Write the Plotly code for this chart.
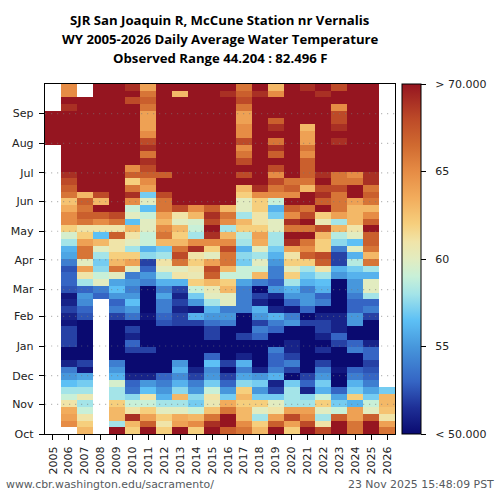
import plotly.graph_objects as go

# weekly water temperature (deg F), Oct at the start of each list, saturated > 70 shown as 72
T2005 = [None] * 43 + [72, 72, 72, 72, 72] + [None] * 4
T2006 = [None, 65, 64, 63.5, 61, 59, 58, 56.5, 55, 54, 51, 50, 50, 52, 52, 52, 50.5, 51, 52, 51, 50.5, 52.5, 53, 53, 52.5, 54,
         55.5, 56, 58, 59.5, 62, 65, 65, 63.5, 62.5, 66, 67, 68, 69, 71, 72, 72, 72, 72, 72, 72, 72, 72, 69, 71, 65, 65]
T2007 = [63, 62, 61, 59, 58, 60.5, 58, 57, 55.5, 50.5, 52, 50, 50, 50, 50, 50, 50, 52.5, 53, 54.5, 55, 53, 58, 61, 64, 60,
         66, 66, 64, 62, 61, 66, 67, 66, 67, 63, 72, 72, 72, 72, 72, 72, 72, 72, 72, 72, 72, 72, 72, 72, None, None]
T2008 = [None] * 20 + [53, 54, 60, 59, 57.5, 57,
         58, 60, 63, 56.5, 61, 65, 67, 70, 63, 68, 72, 72, 72, 72, 72, 72, 72, 72, 72, 72, 72, 72, 72, 72, 72, 72]
T2009 = [71, 58, 63, 63, 62, 58, 58, 59.5, 56, 55, 54, 50, 50, 50, 50, 50, 50, 52, 54, 53, 55, 56.5, 55.5, 60, 66, 63,
         62, 61, 61, 67, 61, 66, 68, 72, 70, 72, 72, 72, 71, 72, 72, 72, 72, 72, 72, 72, 72, 72, 72, 72, 72, 70]
T2010 = [62, 63, 69, 61, 59, 57.5, 53.5, 53, 51, 50, 50, 50, 52, 53, 51, 52, 50, 53.5, 55, 56.5, 55, 54, 55, 54, 60, 64,
         62, 58, 60, 61, 63, 56.5, 60, 59, 65, 69, 66, 62, 67, 65, 72, 72, 72, 72, 72, 72, 71, 72, 70, 68, 70, 69]
T2011 = [71, 67, 64, 62, 59, 61, 56.5, 55, 51, 50, 50, 50, 52, 50, 50, 50, 50, 50.5, 50, 50, 50, 50, 54, 55, 53, 52,
         57.5, 56, 59, 59, 60, 60, 59, 56.5, 60, 57, 64, 65, 67, 68, 69, 66, 69, 68, 65, 64, 64, 64, 66, 67, 66, 64]
T2012 = [62, 61, 62, 60, 58, 56, 55, 54, 53, 50, 50, 50, 50, 50, 50, 50, 52.5, 53, 54, 54, 55.5, 54, 56, 58, 60, 61,
         58, 57, 63, 66, 65, 63, 64, 66, 66, 68, 72, 72, 67, 72, 72, 72, 72, 72, 72, 72, 72, 72, 72, 72, 72, 72]
T2013 = [70, 64, 63.5, 60, 58, 63, 57.5, 56, 54.5, 56, 55, 50, 50, 50, 50, 50, 52, 52, 51, 52, 51, 52, 56, 61, 60, 66,
         68, 66, 63, 62, 63, 60, 61, 68, 70, 72, 72, 72, 72, 72, 72, 72, 72, 72, 72, 72, 72, 72, 72, 72, 63, 71]
T2014 = [62, 65, 63, 59, 57, 57.5, 55, 54, 52, 51, 50, 50, 50, 50, 50, 50, 52, 56, 50.5, 55, 57, 59, 62, 60.5, 61, 62,
         61, 69, 65, 58, 59, 59.5, 63, 65, 72, 72, 72, 72, 72, 72, 72, 72, 72, 72, 72, 72, 72, 72, 72, 72, 72, 71]
T2015 = [70, 69, 66, 62.5, 60.5, 61, 59, 57, 55, 54.5, 56.5, 53, 50, 50, 52, 52, 53.5, 55, 56, 58, 60, 60.5, 63, 67, 68, 64,
         60, 62, 65, 69, 72, 68, 69, 67, 72, 72, 72, 72, 72, 72, 72, 72, 72, 72, 72, 72, 72, 72, 72, 72, 72, 72]
T2016 = [67, 71, 71, 66, 63.5, 57, 55, 53, 52, 50, 52, 50, 50, 50, 50, 50, 54, 55, 54, 60, 60, 63, 62, 59, 63, 66,
         66, 68, 65, 63, 58, 65, 66, 63, 72, 72, 72, 72, 72, 72, 72, 72, 72, 72, 72, 72, 72, 72, 72, 72, 69, 72]
T2017 = [66, 65, 63, 63, 62, 63, 62, 57.5, 55.5, 54, 56, 51, 50, 50, 52, 50, 50, 50, 54, 54, 54, 54, 55.5, 59, 59, 57,
         57.5, 56, 58, 58.5, 62, 63, 58, 60, 60, 62, 63, 72, 68, 70, 68, 66, 65, 68, 65, 65, 64, 64, 66, 68, 67, 66]
T2018 = [63, 62, 58, 60, 62, 57, 55, 57, 55, 51, 50, 50, 50, 50, 53, 54, 52, 55, 56, 51, 52, 50, 54, 63, 59, 60,
         58, 60, 63.5, 64, 62, 61, 61, 62, 62, 65, 69, 72, 72, 72, 72, 72, 72, 72, 72, 72, 72, 72, 72, 72, 69, 72]
T2019 = [71, 67, 64, 61, 60, 57, 52, 51, 56, 54, 53, 53, 54, 50, 50, 53, 54, 56, 51, 50, 51, 55, 53, 54, 54, 55,
         56, 57, 58, 58, 60, 60, 57, 56, 59, 65, 66, 68, 65, 68, 72, 67, 69, 66, 72, 69, 67, 70, 72, 72, 65, 63]
T2020 = [62, 64, 68, 64, 58, 58, 58, 57, 50, 52, 54, 52, 51, 51, 50, 50, 55, 54, 50.5, 53, 55, 56, 58, 62, 60, 62,
         61, 64, 69, 70, 66, 69, 65, 67, 70, 65, 67, 66, 72, 72, 72, 72, 72, 72, 72, 72, 72, 72, 72, 72, 72, 72]
T2021 = [71, 68, 65, 64, 58, 57.5, 51, 53, 52, 50, 50, 50, 50, 50, 50, 50, 52, 50, 53, 55, 55, 54, 56, 57, 58, 62,
         67, 65, 66, 70, 66, 71, 68, 66, 72, 72, 63, 66, 67, 67, 67, 65, 66, 64, 64, 63, 72, 72, 72, 72, 72, 69]
T2022 = [68, 61, 58, 60, 62, 59, 56, 57, 55, 54, 52, 50, 51.5, 50, 51, 52, 52, 51, 50, 54, 53, 56, 56.5, 58, 61, 67,
         68, 62, 62, 63, 68, 60.5, 62, 71, 67, 69, 68, 70, 69, 72, 72, 72, 72, 72, 72, 72, 72, 72, 72, 72, 69, 72]
T2023 = [71, 70, 67, 59, 57, 55.5, 53, 50, 50, 50.5, 50, 50, 50, 52, 53, 51, 51, 51, 50, 50, 50, 50, 50, 55, 56, 52,
         52, 54, 57.5, 58.5, 63, 58, 64, 66, 66, 66, 68, 66, 66, 72, 72, 72, 72, 69, 72, 69, 68, 68, 65, 72, 70, 68]
T2024 = [66, 66, 64, 64, 56, 62, 57, 56, 54, 53, 50, 50, 54, 53, 50, 50, 55, 55, 53, 53, 54, 55, 55, 56, 57, 58.5,
         56, 60, 56.5, 60, 61, 63, 63, 63, 64, 72, 72, 66, 65, 72, 72, 72, 72, 72, 72, 72, 72, 72, 72, 72, 72, 72]
T2025 = [71, 71, 67, 60, 59, 57, 55.5, 54, 53, 52.5, 52, 53, 53, 51, 50, 50, 50, 52, 54, 53, 58, 60, 60, 56, 58, 66,
         63, 66, 67, 67, 72, 67, 65, 63, 66, 67, 66, 69, 69, 72, 72, 72, 72, 72, 72, 72, 72, 72, 72, 72, 72, 72]
T2026 = [66, 64, 61, 62.5, 63, 63, 57] + [None] * 45

YEARS = list(range(2005, 2027))
TEMPS = [T2005, T2006, T2007, T2008, T2009, T2010, T2011, T2012, T2013, T2014, T2015,
         T2016, T2017, T2018, T2019, T2020, T2021, T2022, T2023, T2024, T2025, T2026]

MONTHS = ["Oct", "Nov", "Dec", "Jan", "Feb", "Mar", "Apr", "May", "Jun", "Jul", "Aug", "Sep"]
MONTH_DAYS = [0, 31, 61, 92, 123, 151, 182, 212, 243, 273, 304, 335]
DAYS_IN_YEAR = 366
WEEK = DAYS_IN_YEAR / 52

TITLE_LINES = [
    "SJR San Joaquin R, McCune Station nr Vernalis",
    "WY 2005-2026 Daily Average Water Temperature",
    "Observed Range 44.204 : 82.496 F",
]

# rough read of the colorbar
temp_scale = [
    [0.00, "#0a0a70"], [0.075, "#1e2f96"], [0.15, "#3565c4"], [0.25, "#4797dc"],
    [0.325, "#5dc0f5"], [0.40, "#a4e4e8"], [0.45, "#c8f0d8"], [0.50, "#e2ecc0"],
    [0.55, "#f0e4a8"], [0.60, "#f6cf7d"], [0.675, "#f2ac5c"], [0.75, "#e68c45"],
    [0.825, "#d06a30"], [0.90, "#bd4a28"], [1.00, "#951520"],
]

z = [[col[i] for col in TEMPS] for i in range(52)]

fig = go.Figure(
    go.Heatmap(
        x=YEARS,
        y0=WEEK / 2,
        dy=WEEK,
        z=z,
        zmin=50,
        zmax=70,
        zsmooth=False,
        colorscale=temp_scale,
        hoverongaps=False,
        colorbar=dict(
            thickness=19,
            thicknessmode="pixels",
            len=1,
            lenmode="fraction",
            x=1.0214,
            xanchor="left",
            y=0,
            yanchor="bottom",
            xpad=0,
            ypad=0,
            outlinewidth=1,
            outlinecolor="#000000",
            ticks="outside",
            ticklen=5,
            tickwidth=1,
            tickcolor="#000000",
            tickvals=[50, 55, 60, 65, 70],
            ticktext=["\u00a0\u00a0< 50.000", "\u00a0\u00a055", "\u00a0\u00a060", "\u00a0\u00a065", "\u00a0\u00a0> 70.000"],
            tickfont=dict(family="DejaVu Sans", size=11, color="#222222"),
        ),
    )
)

# dotted month lines sit over the cells
for day in MONTH_DAYS[1:]:
    fig.add_hline(y=day, layer="above", line=dict(color="rgba(120,120,120,0.5)", width=1.2, dash="1.2px,4.8px"))

fig.update_xaxes(
    range=[2004.5, 2026.5],
    tickmode="array",
    tickvals=YEARS,
    tickangle=-90,
    ticks="outside",
    ticklen=5,
    tickcolor="#000000",
    showgrid=False,
    zeroline=False,
    showline=True,
    linecolor="#000000",
    linewidth=1.4,
    mirror=True,
    ticklabelstandoff=2,
    tickfont=dict(family="DejaVu Sans", size=11, color="#222222"),
)
fig.update_yaxes(
    range=[0, DAYS_IN_YEAR],
    tickmode="array",
    tickvals=MONTH_DAYS,
    ticktext=MONTHS,
    ticks="outside",
    ticklen=5,
    tickcolor="#000000",
    showgrid=False,
    zeroline=False,
    showline=True,
    linecolor="#000000",
    linewidth=1.4,
    mirror=True,
    ticklabelstandoff=3,
    tickfont=dict(family="DejaVu Sans", size=11, color="#222222"),
)

for line, y in zip(TITLE_LINES, [1.183, 1.129, 1.074]):
    fig.add_annotation(
        text=line, x=0.5, y=y, xref="paper", yref="paper", showarrow=False,
        xanchor="center", yanchor="middle",
        font=dict(family="Open Sans", size=13.2, color="#000000", weight=700),
    )

fig.add_annotation(
    text="www.cbr.washington.edu/sacramento/", x=-0.1125, y=-0.1457, xref="paper", yref="paper",
    showarrow=False, xanchor="left", yanchor="middle", xshift=-2,
    font=dict(family="DejaVu Sans", size=10.9, color="#555a5e"),
)
fig.add_annotation(
    text="23 Nov 2025 15:48:09 PST", x=1.2835, y=-0.1457, xref="paper", yref="paper",
    showarrow=False, xanchor="right", yanchor="middle", xshift=2,
    font=dict(family="DejaVu Sans", size=10.9, color="#555a5e"),
)

fig.update_layout(
    width=500,
    height=500,
    margin=dict(l=44.5, r=104.5, t=84, b=66, autoexpand=False),
    paper_bgcolor="white",
    plot_bgcolor="white",
    showlegend=False,
)

fig.write_html("out.html", config={"displayModeBar": False}, post_script="document.body.style.margin='0';")
